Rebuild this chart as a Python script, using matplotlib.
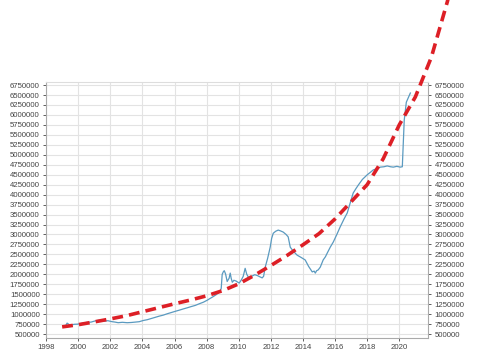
import numpy as np
import matplotlib
matplotlib.use("Agg")
import matplotlib.pyplot as plt

# observed series (decimal year, value)
obs_years = [
    1999.07, 1999.20, 1999.31, 1999.50, 1999.75, 2000.00, 2000.25, 2000.50, 2000.80,
    2001.06, 2001.30, 2001.56, 2001.85, 2002.12, 2002.30, 2002.49, 2002.75, 2003.05,
    2003.30, 2003.55, 2003.80, 2004.05, 2004.30, 2004.55, 2004.80, 2005.05, 2005.30,
    2005.55, 2005.80, 2006.04, 2006.30, 2006.54, 2006.80, 2007.04, 2007.30, 2007.54,
    2007.80, 2008.04, 2008.20, 2008.41, 2008.60, 2008.72, 2008.85, 2008.91, 2008.97,
    2009.05, 2009.10, 2009.18, 2009.28, 2009.40, 2009.47, 2009.53, 2009.60, 2009.70,
    2009.84, 2009.95, 2010.03, 2010.15, 2010.28, 2010.40, 2010.50, 2010.60, 2010.72,
    2010.85, 2011.00, 2011.15, 2011.30, 2011.46, 2011.55, 2011.65, 2011.80, 2011.96,
    2012.05, 2012.15, 2012.30, 2012.46, 2012.60, 2012.77, 2012.95, 2013.08, 2013.15,
    2013.21, 2013.40, 2013.64, 2013.90, 2014.14, 2014.35, 2014.58, 2014.70, 2014.77,
    2014.85, 2014.95, 2015.08, 2015.26, 2015.40, 2015.51, 2015.70, 2015.89, 2016.10,
    2016.32, 2016.55, 2016.76, 2016.95, 2017.13, 2017.30, 2017.45, 2017.70, 2018.01,
    2018.20, 2018.38, 2018.60, 2018.82, 2019.05, 2019.25, 2019.45, 2019.63, 2019.85,
    2020.06, 2020.19, 2020.25, 2020.31, 2020.44, 2020.69,
]
obs_values = [
    700000, 690000, 775000, 720000, 745000, 750000, 770000, 790000, 800000,
    830000, 845000, 820000, 835000, 810000, 800000, 785000, 795000, 785000,
    790000, 800000, 810000, 840000, 860000, 890000, 920000, 950000, 975000,
    1010000, 1040000, 1070000, 1100000, 1130000, 1160000, 1190000, 1220000, 1260000,
    1300000, 1350000, 1390000, 1440000, 1490000, 1530000, 1580000, 1650000, 2000000,
    2070000, 2090000, 2010000, 1820000, 1900000, 2030000, 1900000, 1800000, 1850000,
    1830000, 1800000, 1780000, 1850000, 1950000, 2150000, 2000000, 1930000, 1910000,
    1960000, 1990000, 1970000, 1940000, 1910000, 1950000, 2180000, 2400000, 2680000,
    2900000, 3030000, 3080000, 3110000, 3090000, 3060000, 3000000, 2940000, 2800000,
    2680000, 2580000, 2480000, 2420000, 2360000, 2200000, 2060000, 2080000, 2030000,
    2090000, 2110000, 2180000, 2360000, 2440000, 2530000, 2680000, 2810000, 2990000,
    3190000, 3380000, 3540000, 3800000, 4040000, 4150000, 4240000, 4380000, 4500000,
    4560000, 4620000, 4650000, 4690000, 4700000, 4720000, 4700000, 4690000, 4710000,
    4690000, 4700000, 5290000, 5870000, 6320000, 6550000,
]

# trend curve (year, value)
trend_years = [1999, 2000, 2001, 2002, 2003, 2004, 2005, 2006, 2007, 2008, 2009, 2010,
               2011, 2012, 2013, 2014, 2015, 2016, 2017, 2018, 2019, 2020, 2021, 2022,
               2023, 2023.3]
trend_values = [680000, 735000, 805000, 880000, 960000, 1060000, 1160000, 1260000,
                1355000, 1460000, 1590000, 1760000, 1980000, 2220000, 2470000,
                2740000, 3020000, 3390000, 3820000, 4250000, 4900000, 5750000,
                6450000, 7450000, 8850000, 9350000]

x_ticks = list(range(1998, 2021, 2))
y_ticks = list(range(500000, 6750001, 250000))

plt.rcParams['font.family'] = ['Liberation Sans', 'DejaVu Sans']

fig = plt.figure(figsize=(4.8, 3.6), dpi=100)
ax = fig.add_axes([0.096, 0.061, 0.796, 0.711])

ax.plot(obs_years, obs_values, color="#5a9ac0", linewidth=0.9, zorder=3)
ax.plot(trend_years, trend_values, color="#dd1f26", linewidth=2.6,
        dashes=(3.0, 1.7), clip_on=False, zorder=4)

ax.set_xlim(1998, 2021.8)
ax.set_ylim(400000, 6825000)
ax.set_xticks(x_ticks)
ax.set_yticks(y_ticks)
ax.set_xticklabels([str(t) for t in x_ticks])
ax.set_yticklabels([str(t) for t in y_ticks])

ax.grid(True, color="#e3e3e3", linewidth=0.8)
ax.set_axisbelow(True)
ax.tick_params(axis="both", labelsize=5.6, colors="#444444", length=2.5,
               width=0.6, pad=2)
ax.tick_params(axis="y", right=True, labelright=True)
for side in ["left", "bottom", "right", "top"]:
    ax.spines[side].set_color("#aaaaaa")
    ax.spines[side].set_linewidth(0.8)
ax.spines["top"].set_color("#dddddd")

fig.savefig("out.png", dpi=100)
